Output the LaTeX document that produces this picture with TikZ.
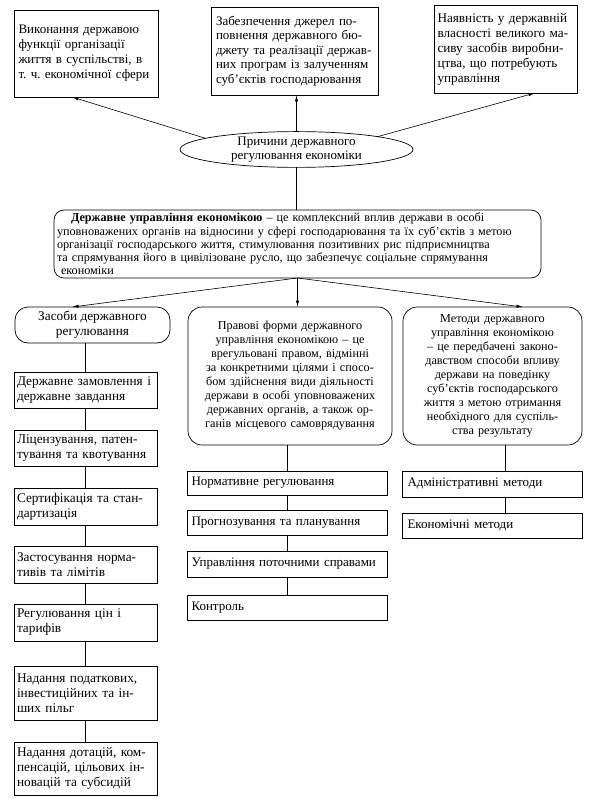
\documentclass[tikz,border=0pt]{standalone}
\usepackage{fontspec}
\setmainfont{Liberation Serif}
\usetikzlibrary{arrows.meta,shapes.geometric}
\newcommand\J[1]{\makebox[\hsize][s]{#1}}
\frenchspacing
\begin{document}
\begin{tikzpicture}[x=1pt,y=-1pt,
  every node/.style={inner sep=0pt, outer sep=0pt},
  bx/.style={draw, line width=0.7pt, rectangle, align=left},
  rbx/.style={bx, rounded corners=12pt},
  arr/.style={-{Latex[length=6.5pt,width=3.2pt]}, line width=0.6pt},
  ln/.style={line width=0.6pt},
  ftop/.style={font=\fontsize{13.2}{15}\selectfont},
  fmid/.style={font=\fontsize{12.2}{14}\selectfont},
  fcen/.style={font=\fontsize{12.2}{13.3}\selectfont},
  fitem/.style={font=\fontsize{13.3}{15}\selectfont},
]
\useasboundingbox (0,0) rectangle (593,799);
\fill[white] (0,0) rectangle (593,799);

% top boxes
\node[bx, ftop, font=\fontsize{13}{15}\selectfont, minimum width=144pt, minimum height=87pt, text width=135pt] (b1) at (86,53.5)
 {\J{Виконання державою}\\ \J{функції організації}\\ \J{життя в суспільстві, в}\\ \J{т.~ч. економічної сфери}};
\node[bx, ftop, font=\fontsize{13}{14.6}\selectfont, minimum width=167pt, minimum height=88pt, text width=157pt] (b2) at (294.5,51)
 {\J{Забезпечення джерел по-}\\ \J{повнення державного бю-}\\ \J{джету та реалізації держав-}\\ \J{них програм із залученням}\\ суб'єктів господарювання};
\node[bx, ftop, minimum width=143pt, minimum height=88pt, text width=136pt] (b3) at (505.5,49)
 {\J{Наявність у державній}\\ \J{власності великого ма-}\\ \J{сиву засобів виробни-}\\ \J{цтва, що потребують}\\ управління};

% ellipse
\node[draw, ellipse, line width=0.7pt, minimum width=233pt, minimum height=35pt, align=center,
  font=\fontsize{13}{14}\selectfont] (ell) at (296.5,149.5) {Причини державного\\регулювання економіки};

% central box
\node[rbx, fcen, rounded corners=10pt, minimum width=487pt, minimum height=68pt, text width=481pt] (cen) at (297.5,244)
 {\hspace*{14pt}\makebox[\dimexpr\hsize-24pt\relax][s]{\textbf{Державне управління економікою} – це комплексний вплив держави в особі}\\
  \J{уповноважених органів на відносини у сфері господарювання та їх суб'єктів з метою}\\
  \J{організації господарського життя, стимулювання позитивних рис підприємництва}\\
  \J{та спрямування його в цивілізоване русло, що забезпечує соціальне спрямування}\\
  \hspace*{4pt}економіки};

% column heads
\node[rbx, fitem, rounded corners=13pt, minimum width=155pt, minimum height=36pt, align=center] (zas) at (92.5,325)
 {Засоби державного\\регулювання};
\node[rbx, fmid, rounded corners=14pt, minimum width=204pt, minimum height=138pt, text width=200pt, align=center] (prav) at (290,376)
 {Правові форми державного\\
  управління економікою – це\\
  врегульовані правом, відмінні\\
  за конкретними цілями і спосо-\\
  бом здійснення види діяльності\\
  держави в особі уповноважених\\
  державних органів, а також ор-\\
  ганів місцевого самоврядування};
\node[rbx, fmid, rounded corners=14pt, minimum width=179pt, minimum height=138pt, text width=176pt, align=center] (met) at (492.5,376)
 {Методи державного\\
  управління економікою\\
  – це передбачені законо-\\
  давством способи впливу\\
  держави на поведінку\\
  суб'єктів господарського\\
  життя з метою отримання\\
  необхідного для суспіль-\\
  ства результату};

% left column items
\tikzset{litem/.style={bx, fitem, minimum width=143pt, text width=137pt}}
\node[litem, minimum height=36pt] (l1) at (85.5,390) {\J{Державне замовлення і}\\ державне завдання};
\node[litem, minimum height=36pt] (l2) at (85.5,448) {\J{Ліцензування, патен-}\\ тування та квотування};
\node[litem, minimum height=37pt] (l3) at (85.5,506.5) {\J{Сертифікація та стан-}\\ дартизація};
\node[litem, minimum height=37pt] (l4) at (85.5,564.5) {\J{Застосування норма-}\\ тивів та лімітів};
\node[litem, minimum height=37pt] (l5) at (85.5,622.5) {Регулювання цін і\\ тарифів};
\node[litem, minimum height=54pt] (l6) at (85.5,693) {\J{Надання податкових,}\\ \J{інвестиційних та ін-}\\ ших пільг};
\node[litem, minimum height=53pt] (l7) at (85.5,768.5) {\J{Надання дотацій, ком-}\\ \J{пенсацій, цільових ін-}\\ новацій та субсидій};

% middle items
\tikzset{mitem/.style={bx, font=\fontsize{13}{15}\selectfont, minimum width=200pt, text width=191pt}}
\node[mitem, minimum height=24pt] (m1) at (287,483) {Нормативне регулювання};
\node[mitem, minimum height=25pt] (m2) at (287,522.5) {Прогнозування та планування};
\node[mitem, minimum height=26pt] (m3) at (287,564) {Управління поточними справами};
\node[mitem, minimum height=25pt] (m4) at (287,607.5) {Контроль};

% right items
\tikzset{ritem/.style={bx, font=\fontsize{13}{15}\selectfont, minimum width=180pt, text width=169pt}}
\node[ritem, minimum height=26pt] (r1) at (492,484) {Адміністративні методи};
\node[ritem, minimum height=25pt] (r2) at (492,525.5) {Економічні методи};
\coordinate (rx) at (505,0);

% connectors top
\draw[arr] (ell.173) -- ([xshift=58pt]b1.south west);
\draw[arr] (ell.north) -- (ell.north |- b2.south);
\draw[arr] (ell.9) -- ([xshift=101pt]b3.south west);
\draw[ln] (ell.south) -- (ell.south |- cen.north);

% fork
\draw[arr] (cen.south) -- ([xshift=57pt]zas.north west);
\draw[arr] (cen.south) -- (cen.south |- prav.north);
\draw[arr] (cen.south) -- ([xshift=120pt]met.north west);

% left chain
\draw[ln] (zas.south -| l1.north) -- (l1.north);
\draw[ln] (l1.south) -- (l2.north);
\draw[ln] (l2.south) -- (l3.north);
\draw[ln] (l3.south) -- (l4.north);
\draw[ln] (l4.south) -- (l5.north);
\draw[ln] (l5.south) -- (l6.north);
\draw[ln] (l6.south) -- (l7.north);

% middle chain
\draw[ln] (prav.south -| m1.north) -- (m1.north);
\draw[ln] (m1.south) -- (m2.north);
\draw[ln] (m2.south) -- (m3.north);
\draw[ln] (m3.south) -- (m4.north);

% right chain
\draw[ln] (met.south -| rx) -- (r1.north -| rx);
\draw[ln] (r1.south -| rx) -- (r2.north -| rx);
\end{tikzpicture}
\end{document}
